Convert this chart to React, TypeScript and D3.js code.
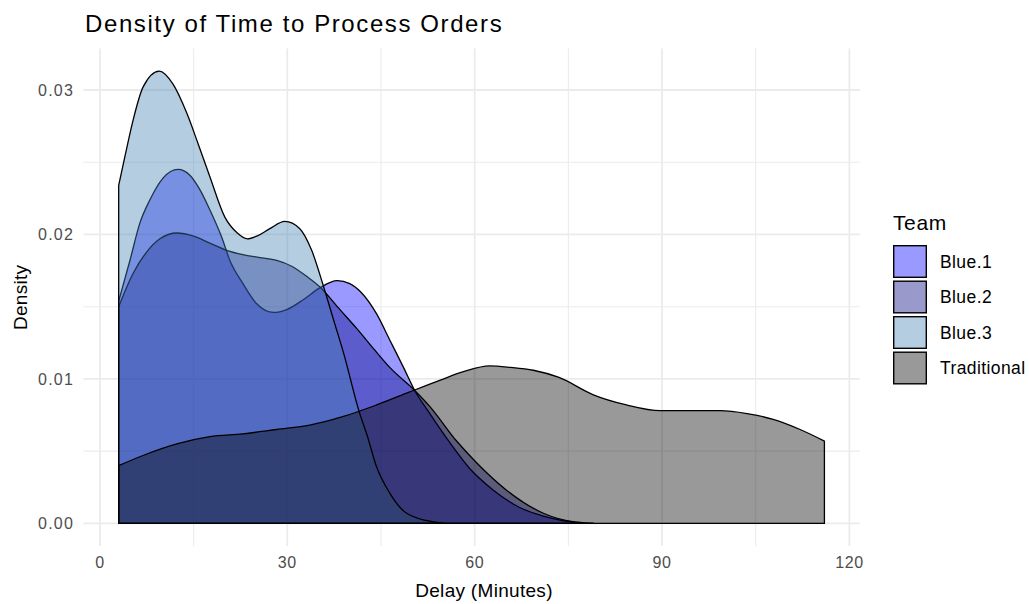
import React, { useEffect, useRef } from 'react';
import * as d3 from 'd3';

// density curves, [delay, density]
const blue1 = [
  [3, 0.0154], [4.8, 0.0182], [6.4, 0.0208], [8.0, 0.0224], [10.1, 0.0239], [12.5, 0.0245],
  [14.4, 0.0241], [16.0, 0.0231], [17.6, 0.0217], [19.5, 0.0198], [20.8, 0.0182], [22.9, 0.0166],
  [25.1, 0.0152], [27.8, 0.0146], [29.9, 0.0148], [32.6, 0.0155], [35.2, 0.0163], [38.0, 0.0168],
  [40.0, 0.0166], [41.8, 0.0160], [44.3, 0.0145], [46.4, 0.0127], [48.6, 0.0108], [50.4, 0.0092],
  [52.5, 0.0078], [56.0, 0.0056], [59.2, 0.0038], [63.0, 0.0023], [67.2, 0.0011], [71.0, 0.0005],
  [74.0, 0.0002], [76.6, 0.00003],
];
const blue2 = [
  [3, 0.0150], [5.3, 0.0173], [7.5, 0.0188], [9.6, 0.0197], [12.3, 0.0201], [14.9, 0.0199],
  [17.6, 0.0194], [20.3, 0.0189], [22.9, 0.0186], [25.6, 0.0184], [28.3, 0.0182], [30.7, 0.0178],
  [33.1, 0.0171], [35.4, 0.0163], [38.0, 0.0150], [41.1, 0.0135], [43.8, 0.0121], [46.4, 0.0108],
  [50.4, 0.0092], [52.8, 0.0081], [57.1, 0.0057], [60.3, 0.0042], [65.1, 0.0023], [71.0, 0.0007],
  [76.0, 0.0001], [79.0, 0.00002],
];
const blue3 = [
  [3, 0.0234], [4.0, 0.0254], [5.3, 0.0279], [6.9, 0.0302], [9.5, 0.0313], [11.7, 0.0304],
  [13.9, 0.0284], [15.7, 0.0263], [17.6, 0.0240], [20.0, 0.0212], [22.0, 0.0201], [23.6, 0.0197],
  [25.2, 0.0199], [27.2, 0.0204], [29.6, 0.0209], [32.0, 0.0204], [33.9, 0.0189], [35.8, 0.0164],
  [37.4, 0.0141], [39.0, 0.0118], [41.6, 0.0076], [42.7, 0.0062], [44.3, 0.0039], [46.4, 0.0021],
  [49.1, 0.0007], [53.4, 0.0001], [55.0, 0.00002],
];
const traditional = [
  [3, 0.0040], [6.9, 0.0047], [12.3, 0.0055], [17.6, 0.0060], [22.9, 0.0062], [28.3, 0.0065],
  [33.6, 0.0068], [39.0, 0.0074], [44.3, 0.0082], [49.6, 0.0091], [54.4, 0.0099], [58.2, 0.0105],
  [62.4, 0.0109], [65.7, 0.0108], [69.4, 0.0106], [73.5, 0.0101], [79.0, 0.0089], [84.3, 0.0082],
  [89.7, 0.0078], [95.0, 0.0078], [99.3, 0.0078], [103.6, 0.0076], [107.8, 0.0072], [112.1, 0.0065],
  [116.0, 0.0057],
];

const teams = ['Blue.1', 'Blue.2', 'Blue.3', 'Traditional'];
const teamColors = ['blue', 'navy', 'steelblue', 'black'];
const xTicks = [0, 30, 60, 90, 120];
const xMinor = [15, 45, 75, 105];
const yTicks = [0, 0.01, 0.02, 0.03];
const yMinor = [0.005, 0.015, 0.025];

const W = 1029;
const H = 604;
const FONT = '"Liberation Sans", Arial, sans-serif';

const App = () => {
  const svgRef = useRef<SVGSVGElement>(null);

  useEffect(() => {
    document.body.style.margin = '0';
    const svg = d3.select(svgRef.current);
    svg.selectAll('*').remove();

    const series = [blue1, blue2, blue3, traditional];
    const all = series.flat();
    const xExt = d3.extent(all, d => d[0]) as [number, number];
    const yMax = d3.max(all, d => d[1]) as number;
    const xPad = (xExt[1] - xExt[0]) * 0.05;
    const yPad = yMax * 0.05;

    const panel = { left: 83.4, right: 859.7, top: 48.6, bottom: 546 };

    const x = d3.scaleLinear()
      .domain([xExt[0] - xPad, xExt[1] + xPad])
      .range([panel.left, panel.right]);
    const y = d3.scaleLinear()
      .domain([-yPad, yMax + yPad])
      .range([panel.bottom, panel.top]);

    // grid
    const grid = svg.append('g');
    grid.selectAll('.xminor').data(xMinor).enter().append('line')
      .attr('x1', d => x(d)).attr('x2', d => x(d))
      .attr('y1', panel.top).attr('y2', panel.bottom)
      .attr('stroke', '#ebebeb').attr('stroke-width', 1.1);
    grid.selectAll('.yminor').data(yMinor).enter().append('line')
      .attr('x1', panel.left).attr('x2', panel.right)
      .attr('y1', d => y(d)).attr('y2', d => y(d))
      .attr('stroke', '#ebebeb').attr('stroke-width', 1.1);
    grid.selectAll('.xmajor').data(xTicks).enter().append('line')
      .attr('x1', d => x(d)).attr('x2', d => x(d))
      .attr('y1', panel.top).attr('y2', panel.bottom)
      .attr('stroke', '#ebebeb').attr('stroke-width', 1.8);
    grid.selectAll('.ymajor').data(yTicks).enter().append('line')
      .attr('x1', panel.left).attr('x2', panel.right)
      .attr('y1', d => y(d)).attr('y2', d => y(d))
      .attr('stroke', '#ebebeb').attr('stroke-width', 1.8);

    // densities
    const area = d3.area<number[]>()
      .x(d => x(d[0]))
      .y0(y(0))
      .y1(d => y(d[1]))
      .curve(d3.curveMonotoneX);

    svg.append('g').selectAll('path')
      .data(series)
      .enter()
      .append('path')
      .attr('d', d => area(d) + 'Z')
      .attr('fill', (d, i) => teamColors[i])
      .attr('fill-opacity', 0.4)
      .attr('stroke', '#000')
      .attr('stroke-width', 1.3)
      .attr('stroke-linejoin', 'round');

    // tick labels
    svg.append('g').selectAll('text')
      .data(xTicks)
      .enter()
      .append('text')
      .attr('x', d => x(d))
      .attr('y', 568)
      .attr('text-anchor', 'middle')
      .attr('fill', '#4d4d4d')
      .style('font-family', FONT)
      .style('font-size', '16px')
      .style('letter-spacing', '0.6px')
      .text(d => d3.format('d')(d));

    svg.append('g').selectAll('text')
      .data(yTicks)
      .enter()
      .append('text')
      .attr('x', 74)
      .attr('y', d => y(d))
      .attr('dy', '0.36em')
      .attr('text-anchor', 'end')
      .attr('fill', '#4d4d4d')
      .style('font-family', FONT)
      .style('font-size', '16px')
      .style('letter-spacing', '1.2px')
      .text(d => d3.format('.2f')(d));

    // axis titles
    svg.append('text')
      .attr('x', 484)
      .attr('y', 597)
      .attr('text-anchor', 'middle')
      .style('font-family', FONT)
      .style('font-size', '19px')
      .style('letter-spacing', '0.3px')
      .text('Delay (Minutes)');

    svg.append('text')
      .attr('transform', `translate(27,${(panel.top + panel.bottom) / 2}) rotate(-90)`)
      .attr('text-anchor', 'middle')
      .style('font-family', FONT)
      .style('font-size', '19px')
      .style('letter-spacing', '0.3px')
      .text('Density');

    // title
    svg.append('text')
      .attr('x', 85)
      .attr('y', 32)
      .style('font-family', FONT)
      .style('font-size', '24px')
      .style('letter-spacing', '1.6px')
      .text('Density of Time to Process Orders');

    // legend
    const legend = svg.append('g').attr('transform', 'translate(893,0)');
    legend.append('text')
      .attr('x', 0)
      .attr('y', 230)
      .style('font-family', FONT)
      .style('font-size', '21px')
      .style('letter-spacing', '0.6px')
      .text('Team');

    const keys = legend.selectAll('.key')
      .data(teams)
      .enter()
      .append('g')
      .attr('transform', (d, i) => `translate(0,${245 + i * 35.5})`);
    keys.append('rect')
      .attr('width', 34)
      .attr('height', 33)
      .attr('fill', '#fff');
    keys.append('rect')
      .attr('x', 0.7).attr('y', 0.7)
      .attr('width', 32.6)
      .attr('height', 31.6)
      .attr('fill', (d, i) => teamColors[i])
      .attr('fill-opacity', 0.4)
      .attr('stroke', '#000')
      .attr('stroke-width', 1.4);
    keys.append('text')
      .attr('x', 47)
      .attr('y', 16.5)
      .attr('dy', '0.36em')
      .style('font-family', FONT)
      .style('font-size', '17.5px')
      .style('letter-spacing', '0.4px')
      .text(d => d);
  }, []);

  return (
    <svg ref={svgRef} width={W} height={H} style={{ display: 'block', background: '#fff' }}></svg>
  );
};

export default App;
